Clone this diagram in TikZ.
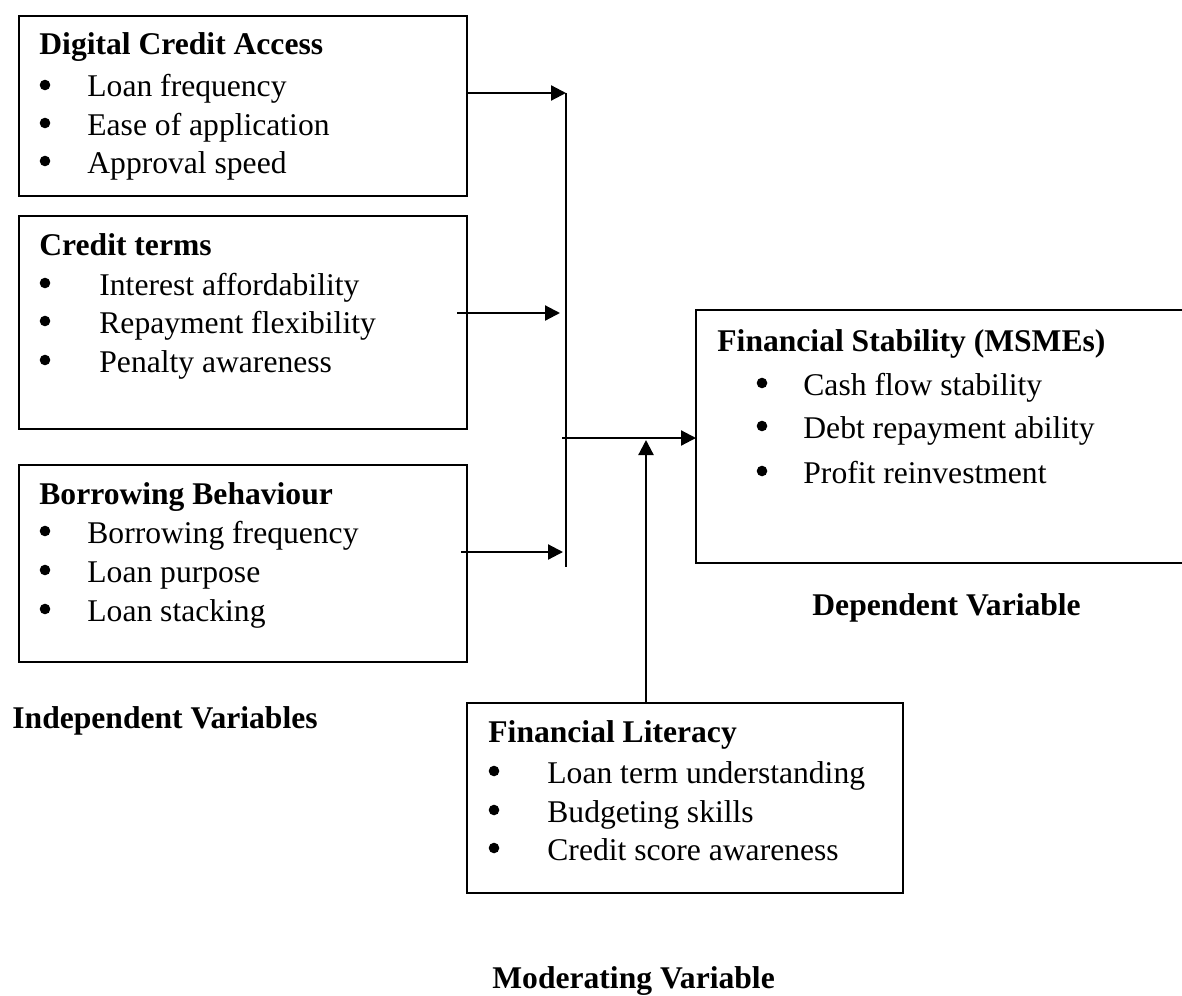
\documentclass[tikz,border=0pt]{standalone}
\usepackage{fontspec}
\setmainfont{Liberation Serif}
\usetikzlibrary{arrows.meta}
\begin{document}
\begin{tikzpicture}[x=0.5pt,y=-0.5pt,
  box/.style={draw, line width=1pt, anchor=north west, inner sep=0pt, minimum width=#1},
  txt/.style={anchor=base west, inner sep=0pt, font=\fontsize{15.8}{19}\selectfont},
  ttl/.style={anchor=base west, inner sep=0pt, font=\fontsize{15.8}{19}\selectfont\bfseries},
  bul/.style={circle, fill=black, inner sep=0pt, minimum size=5.3pt},
  conn/.style={line width=1.1pt},
  arr/.style={line width=1.1pt, -{Triangle[length=7.5pt, width=7.5pt]}}]
\useasboundingbox (0,0) rectangle (1182,995);

% Independent variable boxes
\node[box=224pt, minimum height=90pt] (b1) at (18,15) {};
\node[ttl] (b1t) at (39,55) {Digital Credit Access};
\node[bul] (b1b1) at (45,85) {};
\node[bul] (b1b2) at (45,123) {};
\node[bul] (b1b3) at (45,161) {};
\node[txt] (b1l1) at (87,97) {Loan frequency};
\node[txt] (b1l2) at (87,135) {Ease of application};
\node[txt] (b1l3) at (87,173) {Approval speed};

\node[box=224pt, minimum height=106.5pt] (b2) at (18,215) {};
\node[ttl] (b2t) at (39,255) {Credit terms};
\node[bul] (b2b1) at (45,283) {};
\node[bul] (b2b2) at (45,321) {};
\node[bul] (b2b3) at (45,360) {};
\node[txt] (b2l1) at (99,295) {Interest affordability};
\node[txt] (b2l2) at (99,333) {Repayment flexibility};
\node[txt] (b2l3) at (99,372) {Penalty awareness};

\node[box=224pt, minimum height=98.5pt] (b3) at (18,464) {};
\node[ttl] (b3t) at (39,504) {Borrowing Behaviour};
\node[bul] (b3b1) at (45,531) {};
\node[bul] (b3b2) at (45,570) {};
\node[bul] (b3b3) at (45,609) {};
\node[txt] (b3l1) at (87,543) {Borrowing frequency};
\node[txt] (b3l2) at (87,582) {Loan purpose};
\node[txt] (b3l3) at (87,621) {Loan stacking};

\node[ttl] (indep) at (12,728) {Independent Variables};

% Dependent variable box (open on the right, runs off the page)
\draw[line width=1pt] (1190,310) -- (696,310) -- (696,563) -- (1190,563);
\coordinate (fsl) at (696,438);
\node[ttl] (fst) at (717,351) {Financial Stability (MSMEs)};
\node[bul] (fsb1) at (762,383) {};
\node[bul] (fsb2) at (762,426) {};
\node[bul] (fsb3) at (762,471) {};
\node[txt] (fsl1) at (803,395) {Cash flow stability};
\node[txt] (fsl2) at (803,438) {Debt repayment ability};
\node[txt] (fsl3) at (803,483) {Profit reinvestment};
\node[ttl] (dep) at (812,615) {Dependent Variable};

% Moderating variable box
\node[box=218pt, minimum height=95pt] (fl) at (466,702) {};
\node[ttl] (flt) at (488,742) {Financial Literacy};
\node[bul] (flb1) at (494,771) {};
\node[bul] (flb2) at (494,810) {};
\node[bul] (flb3) at (494,848) {};
\node[txt] (fll1) at (547,783) {Loan term understanding};
\node[txt] (fll2) at (547,822) {Budgeting skills};
\node[txt] (fll3) at (547,860) {Credit score awareness};
\node[ttl] (mod) at (492,988) {Moderating Variable};

% Connectors
\coordinate (vtop) at (566,93);
\coordinate (vbot) at (566,567);
\coordinate (a2s) at (457,313);
\coordinate (a3s) at (461,552);
\coordinate (ms) at (562,438);
\coordinate (upt) at (646,440);

\draw[conn] (vtop) -- (vbot);
\draw[arr] (b1.east |- vtop) -- (vtop);
\draw[arr] (a2s) -- (560,313);
\draw[arr] (a3s) -- (563,552);
\draw[arr] (ms) -- (fsl);
\draw[arr] (fl.north -| upt) -- (upt);
\end{tikzpicture}
\end{document}
